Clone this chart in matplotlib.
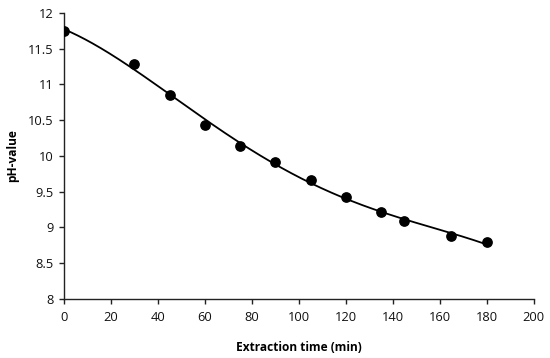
import numpy as np
import matplotlib
matplotlib.use("Agg")
import matplotlib.pyplot as plt

plt.rcParams['font.family'] = ['Open Sans', 'DejaVu Sans']

time_min = [0, 30, 45, 60, 75, 90, 105, 120, 135, 145, 165, 180]
ph_value = [11.75, 11.29, 10.85, 10.43, 10.14, 9.91, 9.67, 9.43, 9.22, 9.09, 8.88, 8.79]
x_ticks = [0, 20, 40, 60, 80, 100, 120, 140, 160, 180, 200]
y_ticks = [8, 8.5, 9, 9.5, 10, 10.5, 11, 11.5, 12]
y_tick_labels = ['8', '8.5', '9', '9.5', '10', '10.5', '11', '11.5', '12']

fig = plt.figure(figsize=(5.5, 3.58), dpi=100)
ax = fig.add_axes([0.1164, 0.1648, 0.8538, 0.7994])

coef = np.polyfit(time_min, ph_value, 4)
xs = np.linspace(min(time_min), max(time_min), 300)
ax.plot(xs, np.polyval(coef, xs), color='black', lw=1.3, zorder=2)
ax.scatter(time_min, ph_value, s=45, color='black', zorder=3)

ax.set_xlim(0, 200)
ax.set_ylim(8, 12)
ax.set_xticks(x_ticks)
ax.set_yticks(y_ticks)
ax.set_yticklabels(y_tick_labels)
ax.spines['top'].set_visible(False)
ax.spines['right'].set_visible(False)
for s in ['left', 'bottom']:
    ax.spines[s].set_linewidth(1.0)
    ax.spines[s].set_color('#222222')
ax.tick_params(direction='out', length=3.6, width=1, colors='#222222', labelsize=9.3, labelcolor='#111111')
ax.tick_params(axis='x', pad=5)
ax.tick_params(axis='y', pad=4)
ax.set_xlabel('Extraction time (min)', fontsize=8.6, fontweight='bold', labelpad=12)
ax.set_ylabel('pH-value', fontsize=8.6, fontweight='bold', labelpad=6)

fig.savefig('out.png', dpi=100)
